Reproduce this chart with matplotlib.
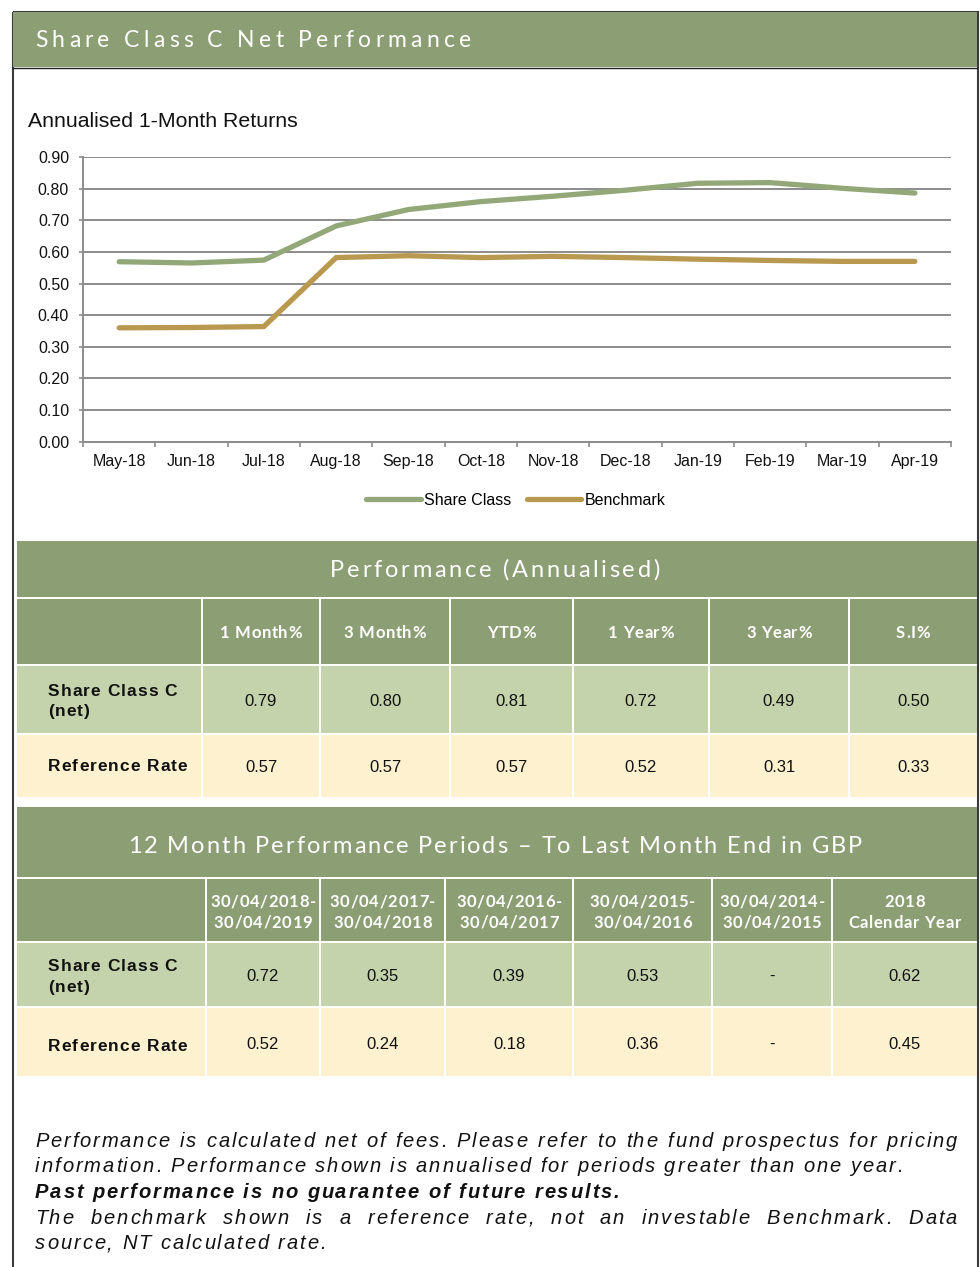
import numpy as np
import matplotlib
matplotlib.use('Agg')
import matplotlib.pyplot as plt
from matplotlib.font_manager import FontProperties, fontManager
from matplotlib.patches import Rectangle

W, H = 980, 1267

# annualised 1-month returns
months = ['May-18', 'Jun-18', 'Jul-18', 'Aug-18', 'Sep-18', 'Oct-18',
          'Nov-18', 'Dec-18', 'Jan-19', 'Feb-19', 'Mar-19', 'Apr-19']
share_class = [0.569, 0.565, 0.574, 0.682, 0.734, 0.759, 0.776, 0.795, 0.817, 0.819, 0.801, 0.786]
benchmark = [0.360, 0.361, 0.364, 0.582, 0.588, 0.582, 0.586, 0.582, 0.577, 0.573, 0.570, 0.570]

# performance (annualised) table
perf_cols = ['1 Month%', '3 Month%', 'YTD%', '1 Year%', '3 Year%', 'S.I%']
perf_share = [0.79, 0.80, 0.81, 0.72, 0.49, 0.50]
perf_ref = [0.57, 0.57, 0.57, 0.52, 0.31, 0.33]

# 12 month periods table
period_cols = [['30/04/2018-', '30/04/2019'], ['30/04/2017-', '30/04/2018'],
               ['30/04/2016-', '30/04/2017'], ['30/04/2015-', '30/04/2016'],
               ['30/04/2014-', '30/04/2015'], ['2018', 'Calendar Year']]
period_share = [0.72, 0.35, 0.39, 0.53, None, 0.62]
period_ref = [0.52, 0.24, 0.18, 0.36, None, 0.45]

row_labels = [['Share Class C', '(net)'], ['Reference Rate']]

notes = [
    ("Performance is calculated net of fees. Please refer to the fund prospectus for pricing", 'normal', True),
    ("information. Performance shown is annualised for periods greater than one year.", 'normal', False),
    ("Past performance is no guarantee of future results.", 'bold', False),
    ("The benchmark shown is a reference rate, not an investable Benchmark. Data", 'normal', True),
    ("source, NT calculated rate.", 'normal', False),
]

GREEN = '#8c9f74'
LIGHT = '#c4d3ab'
CREAM = '#fdf1cf'
LINE_GREEN = '#92a879'
GOLD = '#b9994f'
GRID = '#8c8c8c'

installed = {f.name for f in fontManager.ttflist}
narrow = 'Liberation Sans Narrow' if 'Liberation Sans Narrow' in installed else 'Liberation Sans'

fig = plt.figure(figsize=(W / 100, H / 100), dpi=100)
bg = fig.add_axes([0, 0, 1, 1])
bg.set_xlim(0, W)
bg.set_ylim(H, 0)
bg.axis('off')

renderer = fig.canvas.get_renderer()
_adv = {}


def advance(ch, fp):
    key = (ch, fp)
    if key not in _adv:
        w = lambda s: renderer.get_text_width_height_descent(s, fp, ismath=False)[0]
        _adv[key] = w('H' + ch + 'H') - w('HH')
    return _adv[key]


def spaced(x, y, s, fp, color, track=0.0, ha='left', width=None, justify=False):
    # draws text one glyph at a time so letter spacing can be set
    advs = [advance(c, fp) for c in s]
    n = len(s)
    extra = 0.0
    if width is not None and justify:
        extra = (width - sum(advs) - track * (n - 1)) / s.count(' ')
    elif width is not None:
        track = (width - sum(advs)) / (n - 1)
    total = sum(advs) + track * (n - 1) + extra * s.count(' ')
    if ha == 'center':
        x -= total / 2
    pen = x
    for c, a in zip(s, advs):
        if c != ' ':
            bg.text(pen, y, c, fontproperties=fp, color=color, ha='left', va='baseline')
        pen += a + track + (extra if c == ' ' else 0)
    return track


# frame and page header
bg.add_patch(Rectangle((12.5, 11.5), 965, 1300, fill=False, ec='#3a3a3a', lw=1.5))
bg.add_patch(Rectangle((13, 12), 964, 55, fc=GREEN, ec='none'))
bg.plot([13, 977], [67.5, 67.5], color='#222222', lw=1)
head_fp = FontProperties(family='Lato', size=16.5)
spaced(35, 47, 'Share Class C Net Performance', head_fp, 'white', width=436)

bg.text(28, 127, 'Annualised 1-Month Returns', fontsize=15.3, family='Liberation Sans',
        va='baseline', color='#111111')

# line chart
ax = fig.add_axes([83 / W, 1 - 441.7 / H, 868 / W, 284.7 / H])
x = np.arange(len(months))
ax.plot(x, share_class, color=LINE_GREEN, lw=3.8, solid_capstyle='round',
        solid_joinstyle='round', label='Share Class', zorder=3)
ax.plot(x, benchmark, color=GOLD, lw=3.8, solid_capstyle='round',
        solid_joinstyle='round', label='Benchmark', zorder=3)
ax.set_xlim(-0.5, len(months) - 0.5)
ax.set_ylim(0, 0.9)
ax.set_yticks(np.arange(0, 0.91, 0.1))
ax.set_yticklabels([f'{v:.2f}' for v in np.arange(0, 0.91, 0.1)])
ax.set_xticks(x)
ax.set_xticklabels(months)
ax.set_xticks(np.arange(-0.5, len(months), 1), minor=True)
ax.grid(axis='y', color=GRID, lw=1.4, zorder=1)
ax.set_axisbelow(True)
for side in ['top', 'right']:
    ax.spines[side].set_visible(False)
for side in ['left', 'bottom']:
    ax.spines[side].set_color(GRID)
    ax.spines[side].set_linewidth(1.4)
ax.tick_params(axis='x', which='major', length=0, pad=9, labelsize=11.5)
ax.tick_params(axis='x', which='minor', length=3.5, width=1.2, color=GRID, direction='out')
ax.tick_params(axis='y', length=3, width=1.2, color=GRID, pad=7, labelsize=11.5)
for lab in ax.get_xticklabels() + ax.get_yticklabels():
    lab.set_family('Liberation Sans')
    lab.set_color('#111111')
ax.patch.set_alpha(0)

fig.legend(loc='center', bbox_to_anchor=(516 / W, 1 - 500.5 / H), ncol=2, frameon=False,
           prop=FontProperties(family='Liberation Sans', size=11.5), handlelength=3.4,
           handletextpad=0.2, columnspacing=1.0)

title_fp = FontProperties(family='Lato', size=17)
col_fp = FontProperties(family='Lato', weight='bold', size=12)
lab_fp = FontProperties(family='Liberation Sans', weight='bold', size=12.5)
val_fp = FontProperties(family='Liberation Sans', size=12)


def cell(x0, x1, y0, y1, color):
    bg.add_patch(Rectangle((x0, y0), x1 - x0, y1 - y0, fc=color, ec='none'))


def draw_table(xs, title, title_band, title_base, head_band, head_lines, head_bases,
               rows, label_bases, value_bases, values):
    cell(xs[0], xs[-1], title_band[0], title_band[1], GREEN)
    spaced((xs[0] + xs[-1]) / 2 - 2, title_base, title[0], title_fp, 'white',
           ha='center', width=title[1])
    bands = [(head_band, GREEN)] + rows
    for r, ((y0, y1), color) in enumerate(bands):
        for i in range(len(xs) - 1):
            a = xs[i] + (1 if i > 0 else 0)
            b = xs[i + 1] - (1 if i < len(xs) - 2 else 0)
            cell(a, b, y0, y1, color)
    centers = [(xs[i] + xs[i + 1]) / 2 for i in range(1, len(xs) - 1)]
    for cx, lines in zip(centers, head_lines):
        if isinstance(lines, str):
            lines = [lines]
        for line, yb in zip(lines, head_bases[len(lines) - 1]):
            spaced(cx, yb, line, col_fp, 'white', track=0.7, ha='center')
    for labels, bases in zip(row_labels, label_bases):
        for line, yb in zip(labels, bases):
            spaced(48, yb, line, lab_fp, '#111111', track=1.0)
    for vals, yb in zip(values, value_bases):
        for cx, v in zip(centers, vals):
            txt = '-' if v is None else f'{v:.2f}'
            bg.text(cx, yb, txt, fontproperties=val_fp, color='#111111', ha='center', va='baseline')


draw_table([17, 202, 320, 450, 573, 709, 849, 977],
           ('Performance (Annualised)', 330), (541, 597), 577,
           (599, 664), perf_cols, [[638]],
           [((666, 733), LIGHT), ((735, 797), CREAM)],
           [[696, 716], [771]], [706, 772], [perf_share, perf_ref])

draw_table([17, 206, 320, 445, 573, 712, 832, 977],
           ('12 Month Performance Periods \u2013 To Last Month End in GBP', 734), (807, 877), 853,
           (879, 941), period_cols, [[916], [907, 928]],
           [((943, 1006), LIGHT), ((1008, 1076), CREAM)],
           [[971, 992], [1051]], [981, 1049], [period_share, period_ref])

# footnote, justified where the text runs to the margin
note_fp = FontProperties(family=narrow, style='italic', size=14.5)
note_bold = FontProperties(family=narrow, style='italic', weight='bold', size=14.5)
track = sum(advance(c, note_fp) for c in notes[1][0])
track = (868 - track) / (len(notes[1][0]) - 1)
for k, (line, weight, just) in enumerate(notes):
    fp = note_bold if weight == 'bold' else note_fp
    yb = 1147 + k * 25.5
    if just:
        spaced(35, yb, line, fp, '#111111', track=track, width=922, justify=True)
    else:
        spaced(35, yb, line, fp, '#111111', track=track)

fig.savefig('out.png', dpi=100)
